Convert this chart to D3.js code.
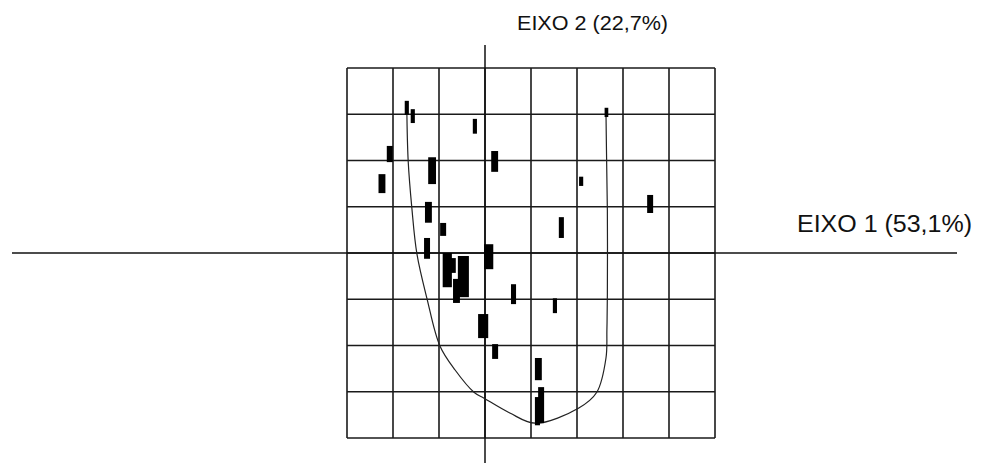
<!DOCTYPE html>
<html>
<head>
<meta charset="utf-8">
<script src="https://cdn.jsdelivr.net/npm/d3@7"></script>
<style>
  html, body { margin: 0; padding: 0; background: #fff; }
  svg { display: block; }
  text { font-family: "Liberation Sans", Arial, sans-serif; fill: #111; }
</style>
</head>
<body>
<svg id="chart" width="981" height="463"></svg>
<script>
// Axis titles with explained inertia
const axis1Label = "EIXO 1 (53,1%)";
const axis2Label = "EIXO 2 (22,7%)";

// Grid extent in factor units
const xDomain = [-3, 5];
const yDomain = [-4, 4];
const gridTicksX = [-3, -2, -1, 0, 1, 2, 3, 4, 5];
const gridTicksY = [-4, -3, -2, -1, 0, 1, 2, 3, 4];

// Sample positions on the two axes (centre), with glyph width/height in axis units
const sampleX = [-1.70, -1.57, -0.22, -2.07, 0.21, -2.24, -1.15, -1.23, -0.91, -1.26, 0.08, -0.82, -0.72,
                 -0.47, -0.62, 0.62, 1.52, -0.04, 0.22, 1.16, 1.22, 1.14, 2.64, 2.09, 3.59, 1.66];
const sampleY = [3.14, 2.96, 2.74, 2.14, 1.98, 1.50, 1.78, 0.88, 0.51, 0.10, -0.08, -0.37, -0.27,
                 -0.51, -0.82, -0.89, -1.14, -1.58, -2.13, -2.51, -3.29, -3.42, 3.04, 1.55, 1.06, 0.55];
const glyphW = [0.09, 0.09, 0.09, 0.13, 0.15, 0.15, 0.17, 0.15, 0.13, 0.13, 0.20, 0.20, 0.17,
                0.24, 0.15, 0.11, 0.09, 0.22, 0.13, 0.15, 0.13, 0.11, 0.08, 0.09, 0.13, 0.11];
const glyphH = [0.30, 0.30, 0.32, 0.35, 0.45, 0.41, 0.58, 0.45, 0.28, 0.45, 0.54, 0.74, 0.32,
                0.89, 0.52, 0.43, 0.32, 0.52, 0.32, 0.48, 0.78, 0.61, 0.20, 0.20, 0.39, 0.45];

// Horseshoe (Guttman) trend through the ordination
const curveX = [-1.70, -1.67, -1.59, -1.48, -1.26, -0.98, -0.65, -0.24, -0.02, 0.54, 1.09,
                2.04, 2.43, 2.63, 2.65, 2.66, 2.66, 2.64, 2.63];
const curveY = [3.14, 1.99, 0.97, -0.02, -0.99, -2.01, -2.53, -3.01, -3.14, -3.46, -3.68,
                -3.35, -3.01, -2.27, -1.66, -0.91, 0.93, 2.27, 3.05];

const svg = d3.select("#chart");

const x = d3.scaleLinear().domain(xDomain).range([347, 715]);
const y = d3.scaleLinear().domain(yDomain).range([438, 68]);

// Grid
const grid = svg.append("g").attr("stroke", "#1a1a1a").attr("stroke-width", 1.6);
grid.selectAll("line.v").data(gridTicksX).join("line")
  .attr("class", "v")
  .attr("x1", d => x(d)).attr("x2", d => x(d))
  .attr("y1", y(yDomain[1])).attr("y2", y(yDomain[0]));
grid.selectAll("line.h").data(gridTicksY).join("line")
  .attr("class", "h")
  .attr("y1", d => y(d)).attr("y2", d => y(d))
  .attr("x1", x(xDomain[0])).attr("x2", x(xDomain[1]));

// Main axes extending past the grid
svg.append("line")
  .attr("x1", 12).attr("x2", 957)
  .attr("y1", y(0)).attr("y2", y(0))
  .attr("stroke", "#111").attr("stroke-width", 1.5);
svg.append("line")
  .attr("x1", x(0)).attr("x2", x(0))
  .attr("y1", 45).attr("y2", 463)
  .attr("stroke", "#111").attr("stroke-width", 1.5);

// Horseshoe curve
const curvePts = curveX.map((d, i) => [d, curveY[i]]);
svg.append("path")
  .datum(curvePts)
  .attr("fill", "none")
  .attr("stroke", "#222")
  .attr("stroke-width", 1.2)
  .attr("d", d3.line().x(d => x(d[0])).y(d => y(d[1])).curve(d3.curveCatmullRom.alpha(0.5)));

// Sample glyphs
const samples = sampleX.map((d, i) => ({ x: d, y: sampleY[i], w: glyphW[i], h: glyphH[i] }));
svg.append("g").selectAll("rect").data(samples).join("rect")
  .attr("x", d => x(d.x - d.w / 2))
  .attr("y", d => y(d.y + d.h / 2))
  .attr("width", d => x(d.w) - x(0))
  .attr("height", d => y(0) - y(d.h))
  .attr("fill", "#000");

// Axis titles
svg.append("text")
  .attr("x", x(0) + 32).attr("y", 30)
  .attr("font-size", 20)
  .attr("textLength", 151).attr("lengthAdjust", "spacingAndGlyphs")
  .text(axis2Label);
svg.append("text")
  .attr("x", 797).attr("y", 232)
  .attr("font-size", 23)
  .attr("textLength", 175).attr("lengthAdjust", "spacingAndGlyphs")
  .text(axis1Label);
</script>
</body>
</html>
